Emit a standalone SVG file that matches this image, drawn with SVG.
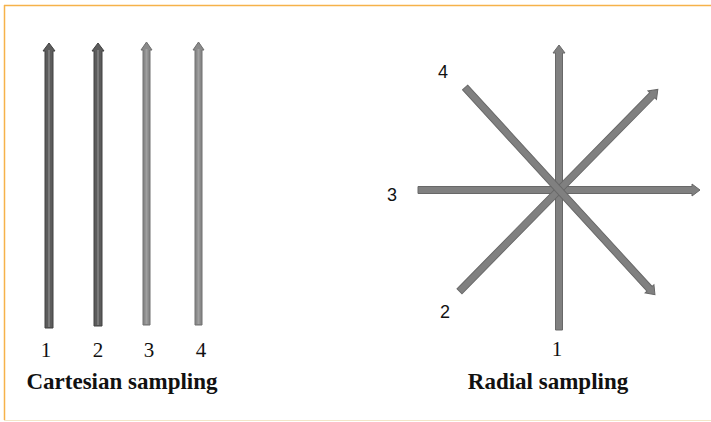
<svg xmlns="http://www.w3.org/2000/svg" width="711" height="422" viewBox="0 0 711 422">
<style>
.dark{fill:#5c5c5c;stroke:#404040;stroke-width:1}
.light{fill:#8a8a8a;stroke:#6e6e6e;stroke-width:1}
.rad{fill:#808080;stroke:#686868;stroke-width:1}
.num{font-family:"Liberation Serif",serif;font-size:21px;fill:#111;text-anchor:middle}
.snum{font-family:"Liberation Sans",Arial,sans-serif;font-size:18px;fill:#111;text-anchor:middle}
.title{font-family:"Liberation Serif",serif;font-size:23px;font-weight:bold;fill:#111;text-anchor:middle}
</style>
<rect width="711" height="422" fill="#fff"/>
<line x1="4" y1="5.5" x2="711" y2="5.5" stroke="#f6b24a" stroke-width="1.5"/>
<line x1="4.5" y1="5" x2="4.5" y2="420" stroke="#f6b24a" stroke-width="1.5"/>
<line x1="4" y1="420.5" x2="711" y2="420.5" stroke="#f2e6c8" stroke-width="1"/>
<g id="connectors">
<g id="cart1"><polygon class="dark" points="45,328 45,51 43,51 49,43 55,51 53,51 53,328"/><line x1="49" y1="50" x2="49" y2="327" stroke="#7a7a7a" stroke-width="2"/></g>
<g id="cart2"><polygon class="dark" points="94,326 94,51 92,51 98,43 104,51 102,51 102,326"/><line x1="98" y1="50" x2="98" y2="325" stroke="#7a7a7a" stroke-width="2"/></g>
<g id="cart3"><polygon class="light" points="143,325 143,50 141,50 146.5,42 152,50 150,50 150,325"/><line x1="146.5" y1="49" x2="146.5" y2="324" stroke="#a0a0a0" stroke-width="2"/></g>
<g id="cart4"><polygon class="light" points="195,325 195,50 193,50 198.5,42 204,50 202,50 202,325"/><line x1="198.5" y1="49" x2="198.5" y2="324" stroke="#a0a0a0" stroke-width="2"/></g>
<g id="rad-h" transform="translate(559,190)"><polygon class="rad" points="-141,-3.5 133,-3.5 133,-6 141,0 133,6 133,3.5 -141,3.5"/></g>
<g id="rad-v" transform="translate(559,190) rotate(-90)"><polygon class="rad" points="-140,-3.5 137,-3.5 137,-6 145,0 137,6 137,3.5 -140,3.5"/></g>
<g id="rad-d2" transform="translate(559,190) rotate(-45.5)"><polygon class="rad" points="-142,-3.5 133,-3.5 133,-6 141,0 133,6 133,3.5 -142,3.5"/></g>
<g id="rad-d4" transform="translate(559,190) rotate(47.5)"><polygon class="rad" points="-139,-3.5 134,-3.5 134,-6 142,0 134,6 134,3.5 -139,3.5"/></g>
</g>
<g id="cartesian-labels">
<text class="num" x="46" y="357">1</text>
<text class="num" x="98" y="357">2</text>
<text class="num" x="149" y="357">3</text>
<text class="num" x="201" y="357">4</text>
<text class="title" x="122" y="389">Cartesian sampling</text>
</g>
<g id="radial-labels">
<text class="snum" x="443" y="78">4</text>
<text class="snum" x="392" y="201">3</text>
<text class="snum" x="445" y="318">2</text>
<text class="num" x="557" y="356">1</text>
<text class="title" x="548" y="389">Radial sampling</text>
</g>
</svg>
